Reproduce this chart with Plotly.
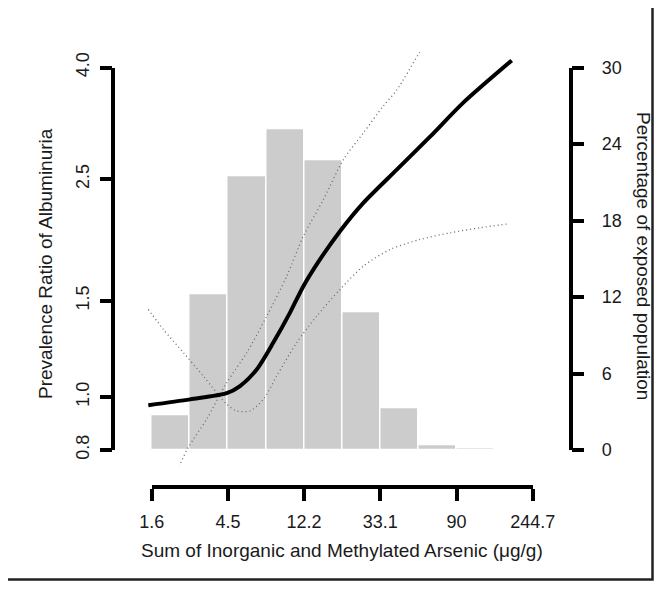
import numpy as np
import plotly.graph_objects as go

# ---------------- data ----------------
# histogram: bins of width 0.5 on the ln(arsenic) scale
bin_centers_ln = [0.75, 1.25, 1.75, 2.25, 2.75, 3.25, 3.75, 4.25, 4.75]
bin_width_ln = 0.5
pct_exposed = [2.7, 12.2, 21.5, 25.2, 22.7, 10.8, 3.3, 0.4, 0.15]

# fitted prevalence ratio curve (arsenic in ug/g)
curve_x = [1.576, 2.73, 4.41, 5.25, 6.54, 8.13, 10.12, 12.06, 15.0, 19.5,
           26.5, 41.1, 63.6, 98.4, 185.7]
curve_pr = [0.966, 0.990, 1.016, 1.047, 1.123, 1.257, 1.426, 1.594, 1.784,
            2.009, 2.263, 2.603, 2.99, 3.45, 4.12]

# confidence band, branch that rises steeply
ci_a_x = [1.576, 2.39, 2.665, 3.39, 4.41, 5.74, 7.46, 9.70, 12.06, 15.68,
          20.4, 26.5, 34.4, 41.1, 55.8, 185.7]
ci_a_pr = [0.578, 0.754, 0.809, 0.911, 1.062, 1.205, 1.405, 1.663, 1.967,
           2.295, 2.715, 3.037, 3.40, 3.64, 4.28, 8.0]

# confidence band, branch that flattens
ci_b_x = [1.576, 1.92, 2.50, 3.245, 4.41, 5.03, 5.99, 7.13, 8.50, 11.05,
          14.37, 19.5, 26.5, 37.6, 55.8, 82.7, 122.6, 177.7]
ci_b_pr = [1.445, 1.329, 1.205, 1.092, 0.970, 0.943, 0.943, 0.990, 1.092,
           1.257, 1.405, 1.572, 1.734, 1.860, 1.940, 1.995, 2.038, 2.072]

# axis ticks
x_tick_ln = [0.5, 1.5, 2.5, 3.5, 4.5, 5.5]
x_tick_labels = ["1.6", "4.5", "12.2", "33.1", "90", "244.7"]
pr_ticks = [0.8, 1.0, 1.5, 2.5, 4.0]
pr_tick_labels = ["0.8", "1.0", "1.5", "2.5", "4.0"]
pct_ticks = [0, 6, 12, 18, 24, 30]

x_title = "Sum of Inorganic and Methylated Arsenic (\u03bcg/g)"
y_title = "Prevalence Ratio of Albuminuria"
y2_title = "Percentage of exposed population"

# ---------------- layout helpers ----------------
# the page body adds an 8px margin on each side, so the figure sits at (8, 8)
OFF = 8
W, H = 662 - 2 * OFF, 589 - 2 * OFF
def px(v):
    return (v - OFF) / W
def py(v):
    return 1 - (v - OFF) / H

FONT = "Liberation Sans, Arial, Helvetica, sans-serif"
TXT = "#1a1a1a"
FS = 18
FS_T = 19

pr_lo, pr_hi = np.log10(0.8), np.log10(4.0)
pad_pr = 0.04 * (pr_hi - pr_lo)
x_lo, x_hi = x_tick_ln[0], x_tick_ln[-1]
pad_x = 0.04 * (x_hi - x_lo)
pct_lo, pct_hi = pct_ticks[0], pct_ticks[-1]
pad_pct = 0.04 * (pct_hi - pct_lo)

fig = go.Figure()

fig.add_trace(go.Bar(
    x=bin_centers_ln, y=pct_exposed, width=bin_width_ln,
    marker=dict(color="#cccccc", line=dict(color="white", width=1.5)),
    xaxis="x", yaxis="y", hoverinfo="skip"))

ci_line = dict(color="#6a6a6a", width=1.3, dash="1px,3px", shape="spline", smoothing=0.8)
fig.add_trace(go.Scatter(
    x=np.log(ci_a_x), y=ci_a_pr, mode="lines", xaxis="x", yaxis="y2",
    line=ci_line, hoverinfo="skip"))
fig.add_trace(go.Scatter(
    x=np.log(ci_b_x), y=ci_b_pr, mode="lines", xaxis="x", yaxis="y2",
    line=ci_line, hoverinfo="skip"))
fig.add_trace(go.Scatter(
    x=np.log(curve_x), y=curve_pr, mode="lines", xaxis="x", yaxis="y2",
    line=dict(color="black", width=4, shape="spline", smoothing=0.8),
    hoverinfo="skip"))

# invisible anchors for the decorative (R-style) axes
fig.add_trace(go.Scatter(x=[x_tick_ln[0]], y=[pr_ticks[1]], xaxis="x2", yaxis="y3",
                         mode="markers", marker=dict(opacity=0), hoverinfo="skip"))
fig.add_trace(go.Scatter(x=[x_tick_ln[0]], y=[pct_ticks[0]], xaxis="x2", yaxis="y4",
                         mode="markers", marker=dict(opacity=0), hoverinfo="skip"))

hidden = dict(showline=False, showticklabels=False, showgrid=False,
              zeroline=False, ticks="", automargin=False)
deco = dict(showline=True, linecolor="black", linewidth=3.5, ticks="outside",
            ticklen=12, tickwidth=3.5, tickcolor="black", showgrid=False,
            zeroline=False, automargin=False,
            tickfont=dict(family=FONT, size=FS, color=TXT))

fig.update_layout(
    template="none",
    width=W, height=H, margin=dict(l=0, r=0, t=0, b=0, pad=0),
    paper_bgcolor="white", plot_bgcolor="rgba(0,0,0,0)", showlegend=False,
    bargap=0,
    xaxis=dict(domain=[px(136.5), px(548)], range=[x_lo - pad_x, x_hi + pad_x],
               anchor="y", **hidden),
    yaxis=dict(domain=[py(465.3), py(52.2)],
               range=[pct_lo - pad_pct, pct_hi + pad_pct], anchor="x", **hidden),
    yaxis2=dict(type="log", overlaying="y", range=[pr_lo - pad_pr, pr_hi + pad_pr],
                anchor="x", **hidden),
    xaxis2=dict(domain=[px(151.7), px(532.7)], range=[x_lo, x_hi], anchor="free",
                position=py(487), side="bottom", tickvals=x_tick_ln,
                ticktext=x_tick_labels, ticklabelstandoff=6, **deco),
    yaxis3=dict(domain=[py(450), py(67.5)], type="log", range=[pr_lo, pr_hi],
                anchor="free", position=px(113.3), side="left", tickvals=pr_ticks,
                ticktext=pr_tick_labels, tickangle=-90, ticklabelstandoff=3, **deco),
    yaxis4=dict(domain=[py(450), py(67.5)], range=[pct_lo, pct_hi], anchor="free",
                position=px(570.5), side="right", tickvals=pct_ticks,
                ticklabelstandoff=14, **deco),
)

# reference line PR = 1
fig.add_shape(type="line", xref="x domain", x0=0, x1=1, yref="y2",
              y0=np.log10(1.0), y1=np.log10(1.0), line=dict(color="black", width=1))

fig.add_annotation(text=x_title, xref="paper", yref="paper", x=px(342.3), y=py(550),
                   showarrow=False, xanchor="center", yanchor="middle",
                   font=dict(family=FONT, size=FS_T, color=TXT))
fig.add_annotation(text=y_title, xref="paper", yref="paper", x=px(46), y=py(264),
                   showarrow=False, textangle=-90, xanchor="center", yanchor="middle",
                   font=dict(family=FONT, size=FS_T, color=TXT))
fig.add_annotation(text=y2_title, xref="paper", yref="paper", x=px(644), y=py(256),
                   showarrow=False, textangle=90, xanchor="center", yanchor="middle",
                   font=dict(family=FONT, size=FS_T, color=TXT))

# frame of the original picture, drawn above everything
fig.add_shape(type="path", xref="paper", yref="paper",
              path=f"M {px(8)},{py(579.5)} L {px(652.5)},{py(579.5)} L {px(652.5)},{py(8)}",
              layer="above", line=dict(color="#222222", width=2.5))

fig.write_html("out.html")
